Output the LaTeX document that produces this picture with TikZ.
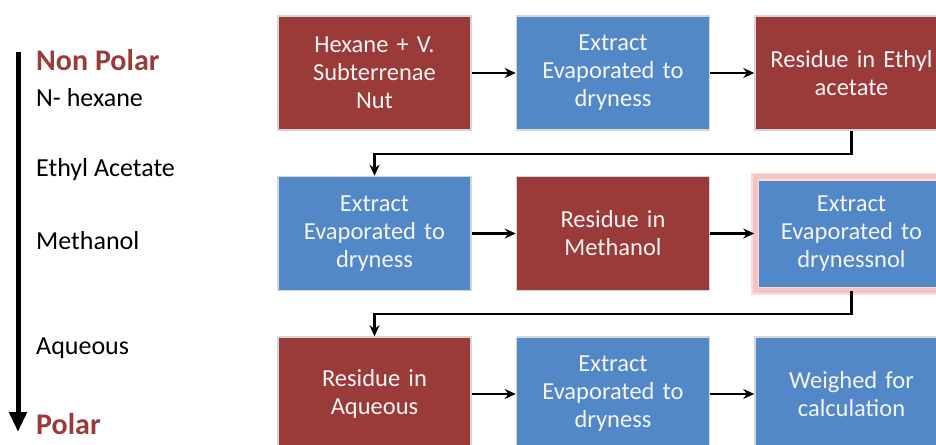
\documentclass[tikz,border=0pt]{standalone}
\usepackage{fontspec}
\setmainfont{Carlito}
\usetikzlibrary{positioning,arrows.meta}
\definecolor{brick}{HTML}{9B3B39}
\definecolor{sky}{HTML}{5388C8}
\definecolor{rim}{HTML}{D6D6D6}
\definecolor{glow}{HTML}{F7C4C4}
\definecolor{boxtext}{HTML}{F4F4F4}

\begin{document}
\begin{tikzpicture}[
  x=1pt, y=-1pt,
  font=\fontsize{24.5}{28}\selectfont,
  stage/.style={rectangle, draw=rim, line width=1.5pt, text=boxtext, align=center, minimum width=193pt, minimum height=114pt, text width=186pt, inner sep=0pt},
  redbox/.style={stage, fill=brick},
  bluebox/.style={stage, fill=sky},
  hilite/.style={bluebox, double=glow, double distance=5pt, draw=glow!60},
  arr/.style={-{Stealth[length=11pt,width=10pt]}, line width=2.3pt, draw=black},
  solv/.style={anchor=west, font=\fontsize{26}{30}\selectfont, text=black, inner sep=0pt},
  pole/.style={anchor=west, font=\fontsize{30}{34}\selectfont\bfseries, text=brick, inner sep=0pt},
]
\useasboundingbox (0,0) rectangle (936,444);

% polarity scale
\coordinate (top) at (18,52);
\coordinate (bot) at (18,432);
\draw[-{Triangle[length=20pt,width=17pt]}, line width=5pt] (top) -- (bot);
\node[pole] (nonpolar) at (36,60) {Non Polar};
\node[solv] (hexane) at (36,98) {N- hexane};
\node[solv] (ethyl) at (36,170) {Ethyl Acetate};
\node[solv] (methanol) at (36,241) {Methanol};
\node[solv] (aqueous) at (36,348) {Aqueous};
\node[pole] (polar) at (36,424) {Polar};

% row 1
\node[redbox] (b1) at (374.5,73) {Hexane + V.\\Subterrenae\\Nut};
\node[bluebox, right=44pt of b1] (b2) {Extract\\Evaporated to\\dryness};
\node[redbox, right=44pt of b2] (b3) {Residue in Ethyl\\acetate};
% row 2
\node[bluebox, below=45pt of b1] (b4) {Extract\\Evaporated to\\dryness};
\node[redbox, right=44pt of b4] (b5) {Residue in\\Methanol};
\node[hilite, right=44pt of b5] (b6) {Extract\\Evaporated to\\drynessnol};
% row 3
\node[redbox, below=45pt of b4] (b7) {Residue in\\Aqueous};
\node[bluebox, right=44pt of b7] (b8) {Extract\\Evaporated to\\dryness};
\node[bluebox, right=44pt of b8] (b9) {Weighed for\\calculation};

\draw[arr] (b1) -- (b2);
\draw[arr] (b2) -- (b3);
\draw[arr] (b3.south) -- ++(0,23) -| (b4.north);
\draw[arr] (b4) -- (b5);
\draw[arr] (b5) -- (b6);
\draw[arr] (b6.south) -- ++(0,23) -| (b7.north);
\draw[arr] (b7) -- (b8);
\draw[arr] (b8) -- (b9);
\end{tikzpicture}
\end{document}
